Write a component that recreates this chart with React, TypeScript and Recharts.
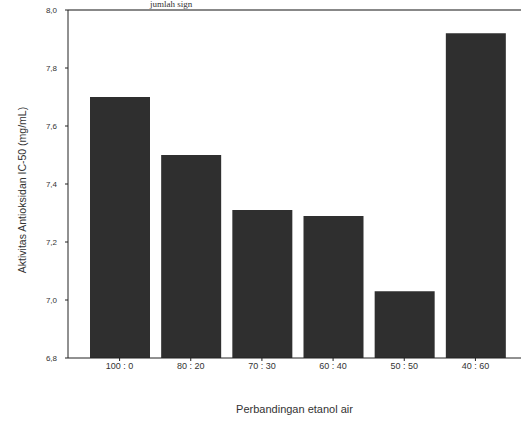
import { Bar, BarChart, Label, ReferenceLine, XAxis, YAxis } from "recharts";

const ratios = ["100 : 0", "80 : 20", "70 : 30", "60 : 40", "50 : 50", "40 : 60"];
const ic50 = [7.7, 7.5, 7.31, 7.29, 7.03, 7.92];
const yTicks = [6.8, 7.0, 7.2, 7.4, 7.6, 7.8, 8.0];

const data = ratios.map((r, i) => ({ ratio: r, value: ic50[i] }));

const textFont = "'Liberation Sans', Arial, sans-serif";

export default function App() {
    return (
        <div style={{ position: "absolute", left: 0, top: 0, width: 521, height: 421, background: "#fff", overflow: "hidden" }}>
            <div
                style={{
                    position: "absolute",
                    left: 150,
                    top: 0,
                    lineHeight: "9px",
                    fontFamily: "'Liberation Serif', serif",
                    fontSize: 9,
                    color: "#333",
                }}
            >
                jumlah sign
            </div>
            <BarChart
                width={521}
                height={421}
                data={data}
                margin={{ top: 10, right: 0, bottom: 0, left: 0 }}
            >
                <ReferenceLine y={8.0} stroke="#888" strokeWidth={2} />
                <XAxis
                    dataKey="ratio"
                    height={63}
                    padding={{ left: 16, right: 10 }}
                    stroke="#222"
                    tickSize={3}
                    tick={{ fontSize: 9, fill: "#333", fontFamily: textFont }}
                    interval={0}
                >
                    <Label
                        value="Perbandingan etanol air"
                        position="insideBottom"
                        offset={8}
                        style={{ fontSize: 11, fill: "#333", fontFamily: textFont }}
                    />
                </XAxis>
                <YAxis
                    width={68}
                    domain={[6.8, 8.0]}
                    ticks={yTicks}
                    allowDataOverflow
                    stroke="#222"
                    tickSize={3}
                    tickMargin={8}
                    tickFormatter={(v: number) => v.toFixed(1).replace(".", ",")}
                    tick={{ fontSize: 8, fill: "#333", fontFamily: textFont }}
                >
                    <Label
                        value="Aktivitas Antioksidan IC-50 (mg/mL)"
                        angle={-90}
                        position="center"
                        dx={-12}
                        dy={6}
                        style={{ fontSize: 10.5, fill: "#333", fontFamily: textFont, textAnchor: "middle" }}
                    />
                </YAxis>
                <Bar dataKey="value" fill="#2f2f2f" barSize={60} isAnimationActive={false} />
            </BarChart>
        </div>
    );
}
